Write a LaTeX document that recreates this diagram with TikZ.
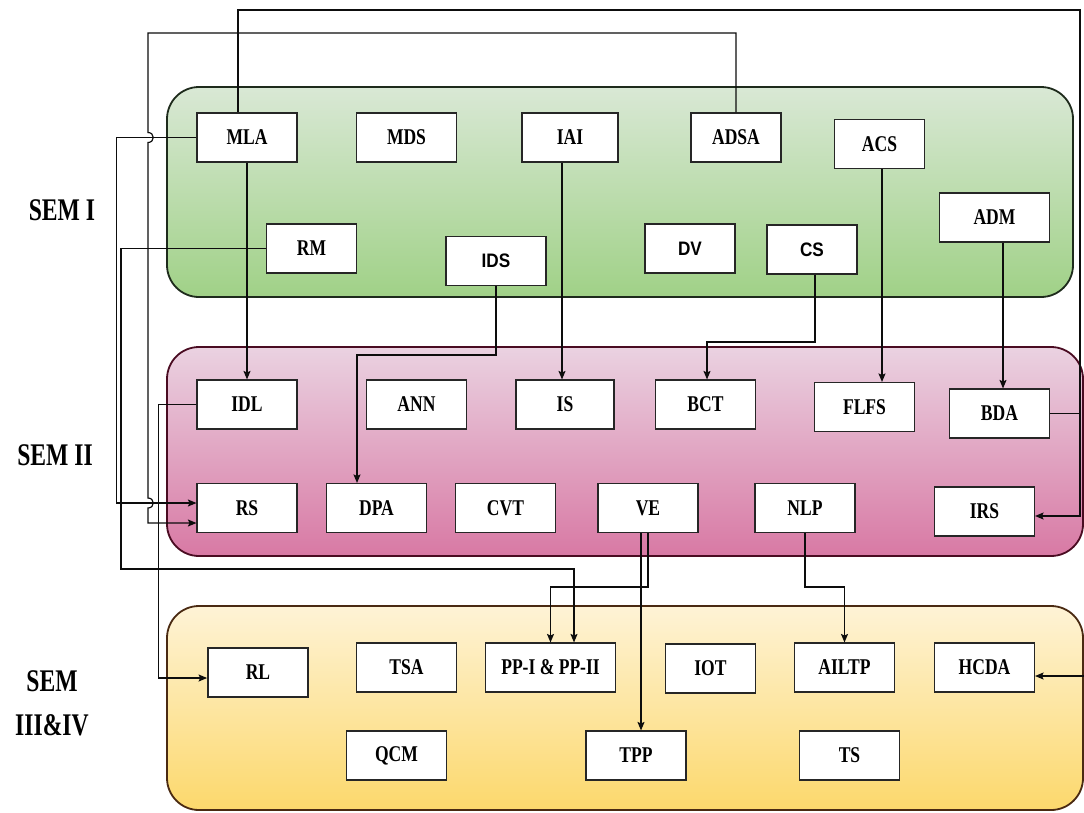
\documentclass[tikz,border=0pt]{standalone}
\usepackage{fontspec}
\setmainfont{Liberation Serif}
\newfontfamily\boxserif{Liberation Serif}[FakeStretch=0.78]
\newfontfamily\boxsans{Liberation Sans}[FakeStretch=0.88]
\newfontfamily\semfont{Liberation Serif}[FakeStretch=0.75]
\usetikzlibrary{arrows.meta,calc}

\definecolor{greenTop}{HTML}{D9E8D5}
\definecolor{greenBot}{HTML}{A0D187}
\definecolor{greenLine}{HTML}{1E2B1C}
\definecolor{pinkTop}{HTML}{EAD2E1}
\definecolor{pinkBot}{HTML}{D879A4}
\definecolor{pinkLine}{HTML}{4A0C22}
\definecolor{yellTop}{HTML}{FEF3D6}
\definecolor{yellBot}{HTML}{FCD86C}
\definecolor{yellLine}{HTML}{4A2A12}

\tikzset{
  panel/.style={line width=1.8pt, rounded corners=32pt},
  course/.style={draw=black!85, line width=1.1pt, fill=white, inner sep=0pt,
    minimum width=100pt, minimum height=49pt,
    font=\boxserif\fontsize{22.5}{24}\selectfont\bfseries},
  coursesans/.style={course, font=\boxsans\fontsize{19.5}{22}\selectfont\bfseries},
  semlabel/.style={align=center, inner sep=0pt,
    font=\semfont\fontsize{31.5}{44}\selectfont\bfseries},
  link/.style={draw=black!95, line width=1.2pt},
  arr/.style={link, -{Stealth[length=8.5pt,width=7pt,inset=1.5pt]}}
}

\begin{document}
\begin{tikzpicture}[x=1pt, y=-1pt]
\useasboundingbox (0,0) rectangle (1084,812);
\fill[white] (0,0) rectangle (1084,812);

% semester panels
\path[panel, draw=greenLine, top color=greenTop, bottom color=greenBot]
  (167,87) rectangle (1073,297);
\path[panel, draw=pinkLine, top color=pinkTop, bottom color=pinkBot]
  (167,347) rectangle (1083,556);
\path[panel, draw=yellLine, top color=yellTop, bottom color=yellBot]
  (167,606) rectangle (1083,810);

% semester titles
\node[semlabel] (sem1) at (62,210) {SEM I};
\node[semlabel] (sem2) at (55,455) {SEM II};
\node[semlabel] (sem34) at (52,703) {SEM\\III\&IV};

% SEM I courses
\node[course] (mla) at (247,137.5) {MLA};
\node[course] (mds) at (406.5,137.5) {MDS};
\node[course, minimum width=96pt] (iai) at (570,137.5) {IAI};
\node[course, minimum width=90pt] (adsa) at (736,137.5) {ADSA};
\node[course, minimum width=90pt] (acs) at (879.5,144) {ACS};
\node[course, minimum width=110pt] (adm) at (994.5,217.5) {ADM};
\node[course, minimum width=90pt] (rm) at (311.5,248.5) {RM};
\node[coursesans] (ids) at (496,261) {IDS};
\node[coursesans, minimum width=90pt] (dv) at (690,248.5) {DV};
\node[coursesans, minimum width=90pt] (cs) at (812,249.5) {CS};

% SEM II courses
\node[course] (idl) at (247,404.5) {IDL};
\node[course] (ann) at (416.5,404.5) {ANN};
\node[course, minimum width=98pt] (is) at (565,404.5) {IS};
\node[course] (bct) at (705.5,404.5) {BCT};
\node[course] (flfs) at (864.5,407) {FLFS};
\node[course] (bda) at (999.5,413.5) {BDA};
\node[course] (rs) at (247,508) {RS};
\node[course] (dpa) at (376.5,508) {DPA};
\node[course] (cvt) at (505.5,508) {CVT};
\node[course] (ve) at (648,508) {VE};
\node[course] (nlp) at (805,508) {NLP};
\node[course] (irs) at (984.5,511.5) {IRS};

% SEM III & IV courses
\node[course, line width=1.8pt] (rl) at (258,672.5) {RL};
\node[course] (tsa) at (406.5,667.5) {TSA};
\node[course, minimum width=130pt] (pp) at (550.5,667.5) {PP-I \& PP-II};
\node[course, minimum width=90pt] (iot) at (710.5,668.5) {IOT};
\node[course] (ailtp) at (844.5,667.5) {AILTP};
\node[course] (hcda) at (984.5,667.5) {HCDA};
\node[course] (qcm) at (396.5,755.5) {QCM};
\node[course] (tpp) at (636,755.5) {TPP};
\node[course] (ts) at (849.5,755.5) {TS};

% routing points
\coordinate (topR) at (1080,10);
\coordinate (topL) at (148,33);
\coordinate (lvlIDS) at (0,355);
\coordinate (lvlCS) at (0,342);
\coordinate (lvlRM) at (121,569);
\coordinate (lvlVE) at (0,587);
\coordinate (edgeR) at (1084,676);

% straight links between semesters
\draw[arr] (mla.south) -- (mla.south |- idl.north);
\draw[arr] ([xshift=-8pt]iai.south) -- ([xshift=-8pt]iai.south |- is.north);
\draw[arr] ([xshift=2.5pt]acs.south) -- ([xshift=2.5pt]acs.south |- flfs.north);
\draw[arr] ([xshift=8.5pt]adm.south) -- ([xshift=8.5pt]adm.south |- bda.north);
\draw[arr] ([xshift=-7pt]ve.south) -- ([xshift=-7pt]ve.south |- tpp.north);

% elbow links
\draw[arr] (ids.south) -- (ids.south |- lvlIDS) -| ([xshift=-19.5pt]dpa.north);
\draw[arr] ([xshift=3pt]cs.south) -- ([xshift=3pt]cs.south |- lvlCS) -| ([xshift=1.5pt]bct.north);
\draw[arr] (ve.south) -- (ve.south |- lvlVE) -| (pp.north);
\draw[arr] (nlp.south) -- (nlp.south |- lvlVE) -| (ailtp.north);
\draw[arr] (rm.west) -| (lvlRM) -| ([xshift=23.5pt]pp.north);
\draw[arr] (idl.west) -- ++(-38,0) |- ($(rl.west)+(0,5.5)$);
\draw[arr] (mla.west) -- ++(-80,0) |- ($(rs.west)+(0,-5)$);

% long link over the top and down the right side
\draw[arr] ([xshift=-9pt]mla.north) |- (topR) |- ($(irs.east)+(0,4.5)$);
\draw[link] (bda.east) -- (bda.east -| topR);
\draw[arr] (edgeR) -- (hcda.east |- edgeR);

% link from ADSA to RS, hopping over two crossings
\draw[arr] (adsa.north) |- (topL)
  -- ($(topL |- mla.west)+(0,-5)$)
     .. controls +(7,0) and +(7,0) .. ($(topL |- mla.west)+(0,5)$)
  -- ($(topL |- rs.west)+(0,-10)$)
     .. controls +(7,0) and +(7,0) .. ($(topL |- rs.west)+(0,0)$)
  |- ($(rs.west)+(0,15)$);
\end{tikzpicture}
\end{document}
